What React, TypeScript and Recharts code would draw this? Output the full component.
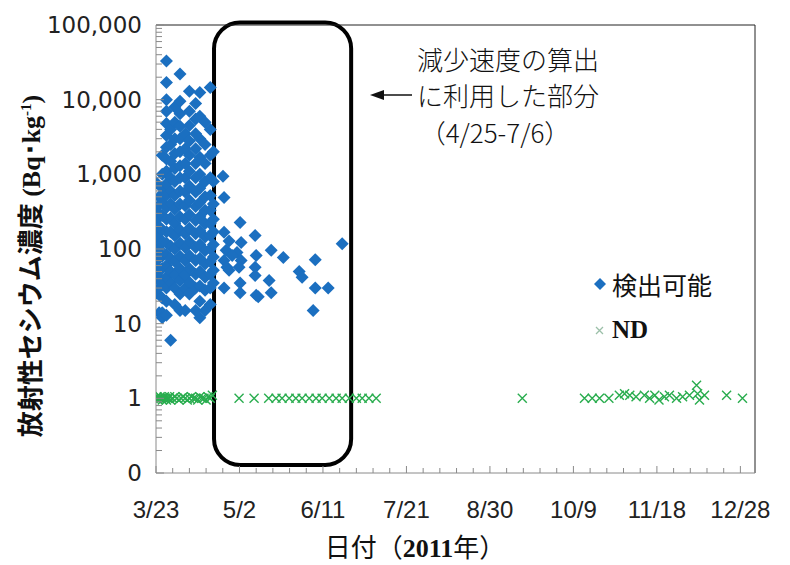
import React from 'react';
import {
  ScatterChart,
  Scatter,
  XAxis,
  YAxis,
  ReferenceArea,
  ReferenceLine,
  Legend,
} from 'recharts';

// day 0 = 3/23/2011
const START = new Date(2011, 2, 23);

// detected samples before the fitting window, one column per sampling day
const EARLY_DAYS = [0, 1.5, 3, 5, 7, 9, 11.5, 14, 16, 19, 21, 23.5, 26, 27.5];
const EARLY_VALUES = [
  [780, 360, 240, 160, 125, 95, 70, 52, 40, 26],
  [500, 300, 200, 140, 100, 75, 55, 42, 30, 14],
  [1800, 1000, 650, 420, 280, 180, 120, 80, 55, 35, 22, 14, 12],
  [33000, 17000, 10000, 7000, 4800, 3300, 2300, 1600, 1100, 750, 520, 360, 250, 170, 120, 85, 60, 42, 30, 20, 13],
  [4000, 2500, 1500, 900, 600, 400, 260, 170, 110, 75, 50, 35, 6],
  [8000, 5000, 3000, 1900, 1200, 800, 520, 340, 220, 150, 100, 68, 45, 30, 18],
  [22000, 9500, 6500, 4400, 3000, 2000, 1300, 900, 600, 400, 270, 180, 120, 80, 55, 38, 25, 15],
  [3500, 2200, 1400, 900, 580, 380, 250, 160, 105, 70, 45, 30, 15],
  [13000, 7000, 4500, 2800, 1800, 1100, 700, 450, 290, 190, 125, 82, 55, 36, 25],
  [8900, 5500, 3500, 2200, 1400, 900, 580, 370, 240, 160, 105, 70, 46, 30, 15],
  [12500, 6000, 3000, 1700, 1000, 650, 420, 270, 175, 115, 75, 50, 32, 20, 12],
  [5000, 2500, 1400, 800, 500, 330, 220, 145, 95, 63, 42, 28, 15],
  [14500, 4000, 1800, 900, 520, 330, 220, 150, 100, 68, 46, 30, 18],
  [2000, 800, 400, 250, 170, 115, 78, 52, 35],
];

// detected samples from late April on: [day, Bq/kg]
const LATE_DETECTED = [
  [32.1, 940], [32.6, 490], [32.6, 167], [35, 128], [33.6, 96], [32.6, 70],
  [34, 57], [35, 52], [32.6, 30], [40.3, 227], [40.8, 122], [38.8, 90],
  [40.8, 70], [39.8, 57], [40.3, 35], [40.3, 26], [36.5, 82], [47.5, 152],
  [48, 82], [47.5, 57], [47.5, 44], [48, 24], [49, 23], [55.2, 96],
  [54.2, 38], [55.2, 26], [61, 77], [68.6, 50], [70, 42], [76.3, 72],
  [76.3, 30], [75.3, 15], [82.5, 30], [89.2, 118],
];

// not-detected samples, plotted near 1
const ND_POINTS = [
  [0, 1], [0.5, 1.05], [1, 0.95], [1.5, 1], [2, 1.05], [2.5, 1], [3, 0.95],
  [3.5, 1], [4, 1.05], [4.5, 1], [5, 0.95], [5.5, 1], [6, 1], [6.5, 1.05],
  [7, 0.95], [8, 1], [9, 1.05], [10, 1], [11, 0.95], [12, 1], [13, 1.05],
  [14, 1], [15, 0.95], [16, 1], [17, 1.05], [18, 1], [19, 1], [20, 0.95],
  [21, 1.05], [22, 1], [23, 1], [24, 0.95], [25, 1.05], [26, 1], [27, 1.1],
  [39.8, 1], [47, 1], [54, 1], [57.5, 1], [60.4, 1], [63.8, 1], [67, 1],
  [70, 1], [73.4, 1], [76.7, 1], [79.6, 1], [83, 1], [86.3, 1], [89.2, 1],
  [92.6, 1], [96, 1], [98.8, 1], [102, 1], [105.5, 1],
  [175.5, 1], [205.3, 1], [209, 1], [212.5, 1], [217, 1], [222, 1.1],
  [224.5, 1.15], [227, 1.1], [230, 1.05], [234, 1.1], [236.5, 1], [239, 1.1],
  [241, 0.95], [243.6, 1.05], [246, 1.1], [249.4, 1], [252.3, 1.05],
  [255.6, 1.1], [259, 1.5], [259.5, 1.15], [260.4, 0.95], [262.8, 1.1],
  [273.4, 1.1], [281, 1],
];

const X_TICKS = Array.from({ length: 36 }, (_, i) => i * 8);
const Y_TICKS = [0.1, 1, 10, 100, 1000, 10000].flatMap((p) =>
  [1, 2, 3, 4, 5, 6, 7, 8, 9].map((k) => +(k * p).toPrecision(3))
).concat([100000]);

// rounded box around the fitting window
const WINDOW_X = [27.8, 93.5];
const WINDOW_Y = [0.128, 108000];

const BLUE = '#1b6fc0';
const GREEN = '#2aad4f';
const AXIS = '#8a8a8a';

const detected = EARLY_DAYS.flatMap((d, i) =>
  EARLY_VALUES[i].map((v) => ({ day: d, value: v }))
).concat(LATE_DETECTED.map(([d, v]) => ({ day: d, value: v })));
const nd = ND_POINTS.map(([d, v]) => ({ day: d, value: v }));

const fmtDate = (d: number) => {
  const t = new Date(START.getTime() + d * 86400000);
  return `${t.getMonth() + 1}/${t.getDate()}`;
};

const isPow10 = (v: number) => Math.abs(Math.log10(v) - Math.round(Math.log10(v))) < 1e-6;

const Diamond = (p: any) => (
  <polygon
    points={`${p.cx},${p.cy - 6.5} ${p.cx + 6.5},${p.cy} ${p.cx},${p.cy + 6.5} ${p.cx - 6.5},${p.cy}`}
    fill={BLUE}
  />
);

const Cross = (p: any) => (
  <path
    d={`M${p.cx - 4.5},${p.cy - 4.5}L${p.cx + 4.5},${p.cy + 4.5}M${p.cx - 4.5},${p.cy + 4.5}L${p.cx + 4.5},${p.cy - 4.5}`}
    stroke={GREEN}
    strokeWidth={1.4}
    fill="none"
  />
);

const XTick = (p: any) => {
  const v = p.payload.value;
  const major = v % 40 === 0;
  return (
    <g>
      <line x1={p.x} y1={p.y} x2={p.x} y2={p.y - (major ? 7 : 5)} stroke={AXIS} />
      {major && (
        <text x={p.x} y={p.y + 45} textAnchor="middle" fontSize={24} fill="#222"
          fontFamily="'Liberation Sans', Arial, sans-serif">
          {fmtDate(v)}
        </text>
      )}
    </g>
  );
};

const YTick = (p: any) => {
  const v = p.payload.value;
  const major = isPow10(v);
  const label = v < 1 ? '0' : v.toLocaleString('en-US');
  return (
    <g>
      <line x1={p.x} y1={p.y} x2={p.x + (major ? 8 : 6)} y2={p.y} stroke={AXIS} />
      {major && (
        <text x={p.x - 14} y={p.y + 8} textAnchor="end" fontSize={23} fill="#222"
          fontFamily="'DejaVu Sans', sans-serif">
          {label}
        </text>
      )}
    </g>
  );
};

const RoundBox = (p: any) => (
  <rect x={p.x} y={p.y} width={p.width} height={p.height} rx={26} ry={26}
    fill="none" stroke="#000" strokeWidth={4} />
);

const LegendBox = () => (
  <div style={{ fontFamily: "'Noto Sans CJK JP', sans-serif", color: '#111' }}>
    <div style={{ display: 'flex', alignItems: 'center', height: 36 }}>
      <svg width={22} height={20}>
        <polygon points="12,4 18,10 12,16 6,10" fill={BLUE} />
      </svg>
      <span style={{ fontSize: 25, marginLeft: 2 }}>検出可能</span>
    </div>
    <div style={{ display: 'flex', alignItems: 'center', height: 36, marginTop: 10 }}>
      <svg width={22} height={20}>
        <path d="M8,7L15,14M8,14L15,7" stroke="#9bbfa8" strokeWidth={1.3} />
      </svg>
      <span style={{ fontSize: 25, marginLeft: 2, fontWeight: 700,
        fontFamily: "'Liberation Serif', serif" }}>ND</span>
    </div>
  </div>
);

const serif = "'Liberation Serif', serif";
const cjk = "'Noto Sans CJK JP', sans-serif";

export default function App() {
  return (
    <div style={{ position: 'absolute', left: 0, top: 0, width: 790, height: 565, background: '#fff' }}>
      <ScatterChart width={790} height={565} margin={{ top: 25, right: 35, bottom: 52, left: 86 }}>
        <XAxis
          type="number"
          dataKey="day"
          domain={[0, 287]}
          ticks={X_TICKS}
          interval={0}
          tickSize={0}
          tickMargin={0}
          height={40}
          stroke={AXIS}
          tick={<XTick />}
          allowDataOverflow
        />
        <YAxis
          type="number"
          dataKey="value"
          scale="log"
          domain={[0.1, 100000]}
          ticks={Y_TICKS}
          interval={0}
          tickSize={0}
          tickMargin={0}
          width={70}
          stroke={AXIS}
          tick={<YTick />}
          allowDataOverflow
        />
        <ReferenceLine y={100000} stroke="#222" />
        <ReferenceLine x={287} stroke="#222" />
        <Scatter name="検出可能" data={detected} shape={<Diamond />} isAnimationActive={false} />
        <Scatter name="ND" data={nd} shape={<Cross />} isAnimationActive={false} />
        <ReferenceArea
          x1={WINDOW_X[0]} x2={WINDOW_X[1]} y1={WINDOW_Y[0]} y2={WINDOW_Y[1]}
          ifOverflow="visible" shape={<RoundBox />}
        />
        <Legend
          layout="horizontal" verticalAlign="middle" align="center"
          wrapperStyle={{ left: 588, top: 266, width: 170 }}
          content={<LegendBox />}
        />
      </ScatterChart>
      <svg width={790} height={565} style={{ position: 'absolute', left: 0, top: 0, pointerEvents: 'none' }}>
        <g fontFamily={cjk} fontSize={26} fill="#111" fontWeight={300} textAnchor="middle">
          <text x={508} y={70}>減少速度の算出</text>
          <text x={508} y={106}>に利用した部分</text>
          <text x={495} y={143}>（4/25-7/6）</text>
        </g>
        <line x1={382} y1={95} x2={412} y2={95} stroke="#111" strokeWidth={1.5} />
        <polygon points="370,95 384,90 384,100" fill="#111" />
        <text transform="translate(40,266) rotate(-90)" textAnchor="middle" fontSize={26} fontWeight={700} fill="#111">
          <tspan fontFamily={cjk}>放射性セシウム濃度</tspan>
          <tspan fontFamily={serif}> (Bq･kg</tspan>
          <tspan fontFamily={serif} fontSize={15} dy={-9}>-1</tspan>
          <tspan fontFamily={serif} dy={9}>)</tspan>
        </text>
        <text x={415} y={557} textAnchor="middle" fontSize={26} fill="#111">
          <tspan fontFamily={cjk}>日付（</tspan>
          <tspan fontFamily={serif} fontWeight={700}>2011</tspan>
          <tspan fontFamily={cjk}>年）</tspan>
        </text>
      </svg>
    </div>
  );
}
